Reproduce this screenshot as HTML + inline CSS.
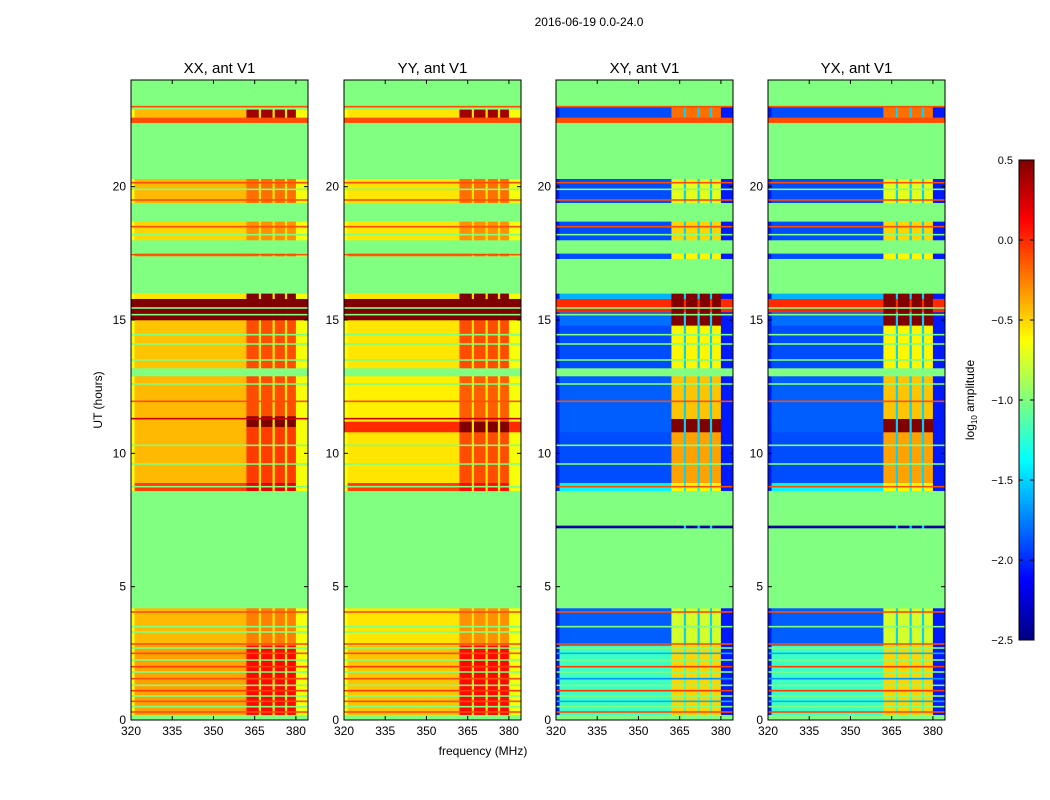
<!DOCTYPE html>
<html><head><meta charset="utf-8"><style>
html,body{margin:0;padding:0;background:#fff;}
svg{display:block;font-family:"Liberation Sans","DejaVu Sans",sans-serif;}
</style></head><body>
<svg id="fig" width="1050" height="800" viewBox="0 0 1050 800">
<text x="589" y="26" font-size="12" text-anchor="middle">2016-06-19 0.0-24.0</text>
<text x="483" y="755" font-size="12" text-anchor="middle">frequency (MHz)</text>
<text transform="translate(102,400) rotate(-90)" font-size="12" text-anchor="middle">UT (hours)</text>
<text transform="translate(974,400) rotate(-90)" font-size="12" text-anchor="middle">log<tspan font-size="8" dy="3">10</tspan><tspan dy="-3"> amplitude</tspan></text>
<g id="panels"></g>
<g id="cbar"></g>
</svg>
<script>
// ---- data ----
const panelTitles = ["XX, ant V1","YY, ant V1","XY, ant V1","YX, ant V1"];
const xTicks = [320,335,350,365,380];
const yTicks = [0,5,10,15,20];
const cbarTicks = [-2.5,-2.0,-1.5,-1.0,-0.5,0.0,0.5];
// frequency column edges (MHz) and kinds: b=base, r=rfi, g=gap, e=edge
const colEdges = [320,321.3,362,366.5,367.3,371.5,372.3,376,376.8,380,384.4];
const colKinds = ["e","b","r","g","r","g","r","g","r","e"];
// bands: [start hour, end hour, base value, rfi value]
const bandsXX = [[0,0.2,-1,-1],[0.2,2.8,-0.35,0.1],[2.8,4.2,-0.42,-0.25],[4.2,8.6,-1,-1],[8.6,8.9,-0.05,0.2],[8.9,11.0,-0.42,-0.05],[11.0,11.4,-0.42,0.5],[11.4,12.9,-0.42,-0.1],[12.9,13.2,-1,-1],[13.2,15.0,-0.45,-0.1],[15.0,15.8,0.5,0.5],[15.8,16.0,-0.55,0.5],[16.0,17.4,-1,-1],[17.4,17.5,-0.2,-0.2],[17.5,18.0,-1,-1],[18.0,18.7,-0.5,-0.3],[18.7,19.4,-1,-1],[19.4,20.3,-0.42,-0.2],[20.3,22.4,-1,-1],[22.4,22.6,-0.1,-0.1],[22.6,22.9,-0.42,0.4],[22.9,24,-1,-1]];
const bandsYY = [[0,0.2,-1,-1],[0.2,2.8,-0.45,0.1],[2.8,4.2,-0.55,-0.3],[4.2,8.6,-1,-1],[8.6,8.9,-0.05,0.1],[8.9,10.8,-0.55,-0.1],[10.8,11.2,0.0,0.5],[11.2,12.9,-0.58,-0.15],[12.9,13.2,-1,-1],[13.2,15.0,-0.55,-0.1],[15.0,15.8,0.5,0.5],[15.8,16.0,-0.55,0.5],[16.0,17.4,-1,-1],[17.4,17.5,-0.2,-0.2],[17.5,18.0,-1,-1],[18.0,18.7,-0.55,-0.3],[18.7,19.4,-1,-1],[19.4,20.3,-0.55,-0.2],[20.3,22.4,-1,-1],[22.4,22.6,-0.1,-0.1],[22.6,22.9,-0.55,0.4],[22.9,24,-1,-1]];
const bandsXY = [[0,0.2,-1,-1],[0.2,2.8,-1.2,-0.5],[2.8,4.2,-1.85,-0.75],[4.2,7.2,-1,-1],[7.2,7.3,-2.4,-2.4],[7.3,8.6,-1,-1],[8.6,8.9,-1.4,-0.6],[8.9,10.8,-1.9,-0.35],[10.8,11.3,-1.85,0.5],[11.3,12.9,-1.85,-0.45],[12.9,13.2,-1,-1],[13.2,14.8,-1.9,-0.6],[14.8,15.3,-1.8,0.5],[15.3,15.8,0.0,0.5],[15.8,16.0,-1.6,0.5],[16.0,17.3,-1,-1],[17.3,17.5,-1.9,-0.6],[17.5,18.0,-1,-1],[18.0,18.7,-1.9,-0.5],[18.7,19.4,-1,-1],[19.4,20.3,-1.9,-0.7],[20.3,22.4,-1,-1],[22.4,22.6,-0.1,-0.1],[22.6,23.0,-1.9,-0.2],[23.0,24,-1,-1]];
const bandsYX = [[0,0.2,-1,-1],[0.2,2.8,-1.2,-0.5],[2.8,4.2,-1.85,-0.75],[4.2,7.2,-1,-1],[7.2,7.3,-2.4,-2.4],[7.3,8.6,-1,-1],[8.6,8.9,-1.4,-0.6],[8.9,10.8,-1.9,-0.35],[10.8,11.3,-1.85,0.5],[11.3,12.9,-1.85,-0.45],[12.9,13.2,-1,-1],[13.2,14.8,-1.9,-0.6],[14.8,15.3,-1.8,0.5],[15.3,15.8,0.0,0.5],[15.8,16.0,-1.6,0.5],[16.0,17.3,-1,-1],[17.3,17.5,-1.9,-0.6],[17.5,18.0,-1,-1],[18.0,18.7,-1.9,-0.5],[18.7,19.4,-1,-1],[19.4,20.3,-1.9,-0.7],[20.3,22.4,-1,-1],[22.4,22.6,-0.1,-0.1],[22.6,23.0,-1.9,-0.2],[23.0,24,-1,-1]];
// thin horizontal lines: [hour, value]
const linesAuto = [[0.3,-0.1],[0.5,-1],[0.7,-0.1],[0.9,-1],[1.1,-0.05],[1.3,-1],[1.55,-0.1],[1.8,-1],[2.0,-0.05],[2.25,-1],[2.5,-0.1],[2.7,-1],[2.85,-0.1],[3.3,-1],[3.5,-1],[4.05,-0.1],[8.75,-1],[9.6,-1],[10.3,-1],[11.3,0.3],[11.95,-0.1],[12.6,-1],[13.5,-1],[14.1,-1],[14.45,-1],[15.2,-1],[15.45,-1],[17.45,-0.1],[18.2,-1],[18.5,-0.1],[19.5,-0.1],[19.9,-1],[20.15,-0.1],[22.5,-0.1],[23.0,-0.1]];
const linesCross = [[0.3,-0.1],[0.5,-1],[0.7,-1.6],[0.9,-1],[1.1,-0.05],[1.3,-1],[1.55,-1.7],[1.8,-1],[2.0,-0.05],[2.25,-1],[2.5,-1.6],[2.7,-1],[2.85,-0.1],[3.5,-1],[4.05,-0.1],[8.75,-0.1],[9.6,-1],[10.3,-1],[11.95,-0.1],[12.6,-1],[13.5,-1],[14.1,-1],[14.45,-1],[15.2,-1],[15.45,-1],[18.2,-1],[18.5,-0.1],[19.5,-0.1],[19.9,-1],[20.15,-0.1],[22.5,-0.1],[23.0,-0.1]];
const panelBands = [bandsXX,bandsYY,bandsXY,bandsYX];
const panelLines = [linesAuto,linesAuto,linesCross,linesCross];
const panelCross = [false,false,true,true];
// ---- layout ----
const panelX = [131,344,556,768], panelW = 177, topY = 80, botY = 720;
const vmin = -2.5, vmax = 0.5;
function jet(v){
  let x = Math.max(0,Math.min(1,(v-vmin)/(vmax-vmin)));
  const c = t=>Math.round(255*Math.max(0,Math.min(1,1.5-Math.abs(4*x-t))));
  return `rgb(${c(3)},${c(2)},${c(1)})`;
}
const NS="http://www.w3.org/2000/svg";
function mk(tag,attrs,parent){const e=document.createElementNS(NS,tag);for(const k in attrs)e.setAttribute(k,attrs[k]);parent.appendChild(e);return e;}
const panelsG=document.getElementById('panels');
panelBands.forEach((bands,p)=>{
  const x0=panelX[p];
  const sx=f=>x0+(f-320)*(panelW/64.4);
  const sy=h=>botY-(h/24)*(botY-topY);
  const g=mk('g',{},panelsG);
  
  
  const cross=panelCross[p];
  bands.forEach(b=>{
    for(let c=0;c<colKinds.length;c++){
      const k=colKinds[c];let v;
      if(b[2]===-1&&b[3]===-1) v=-1;
      else if(b[2]>=-0.1&&b[3]>=-0.1&&b[2]===b[3]) v=b[2];
      else if(k==="b") v=b[2];
      else if(k==="r") v=b[3];
      else if(k==="g") v=cross?Math.max(b[2],-1.5):Math.min(b[2],-0.55);
      else v=cross?Math.min(b[2],-2.05):Math.min(b[2],-0.65);
      if(b[2]>=0&&(k==="e"||k==="b")) v=b[2];
      const r=mk('rect',{x:sx(colEdges[c]).toFixed(2),y:sy(b[1]).toFixed(2),width:(sx(colEdges[c+1])-sx(colEdges[c])+0.3).toFixed(2),height:(sy(b[0])-sy(b[1])+0.3).toFixed(2),fill:jet(v)},g);
      
      
    }
  });
  panelLines[p].forEach(l=>{
    const r=mk('rect',{x:x0,y:(sy(l[0])-0.8).toFixed(2),width:panelW,height:1.6,fill:jet(l[1])},g);
    
    
  });
  mk('rect',{x:x0,y:topY,width:panelW,height:botY-topY,fill:'none',stroke:'#000','stroke-width':1},g);
  const t=mk('text',{x:x0+panelW/2,y:topY-7,'font-size':15,'text-anchor':'middle'},g);t.textContent=panelTitles[p];
  
  
  xTicks.forEach(f=>{
    const x=sx(f);
    mk('line',{x1:x,x2:x,y1:botY,y2:botY-4,stroke:'#000'},g);
    mk('line',{x1:x,x2:x,y1:topY,y2:topY+4,stroke:'#000'},g);
    const tt=mk('text',{x:x,y:botY+15,'font-size':12,'text-anchor':'middle'},g);tt.textContent=f;
    
    
  });
  yTicks.forEach(h=>{
    const y=sy(h);
    mk('line',{x1:x0,x2:x0+4,y1:y,y2:y,stroke:'#000'},g);
    mk('line',{x1:x0+panelW,x2:x0+panelW-4,y1:y,y2:y,stroke:'#000'},g);
    const tt=mk('text',{x:x0-5,y:y+4,'font-size':12,'text-anchor':'end'},g);tt.textContent=h;
    
    
  });
});
// colorbar
const cb=document.getElementById('cbar');


const cbT=160,cbB=640,cbX=1019,cbW=15;
for(let i=0;i<120;i++){
  const v=vmin+(i+0.5)/120*(vmax-vmin);
  mk('rect',{x:cbX,y:(cbB-(i+1)*(cbB-cbT)/120).toFixed(2),width:cbW,height:((cbB-cbT)/120+0.4).toFixed(2),fill:jet(v)},cb);
}
mk('rect',{x:cbX,y:cbT,width:cbW,height:cbB-cbT,fill:'none',stroke:'#000'},cb);
cbarTicks.forEach(v=>{
  const y=cbB-(v-vmin)/(vmax-vmin)*(cbB-cbT);
  mk('line',{x1:cbX+cbW,x2:cbX+cbW-4,y1:y,y2:y,stroke:'#000'},cb);
  mk('line',{x1:cbX,x2:cbX+4,y1:y,y2:y,stroke:'#000'},cb);
  const t=mk('text',{x:1013,y:y+4,'font-size':11,'text-anchor':'end'},cb);t.textContent=v.toFixed(1).replace('-','\u2212');
  
  
});
</script>
</body></html>
